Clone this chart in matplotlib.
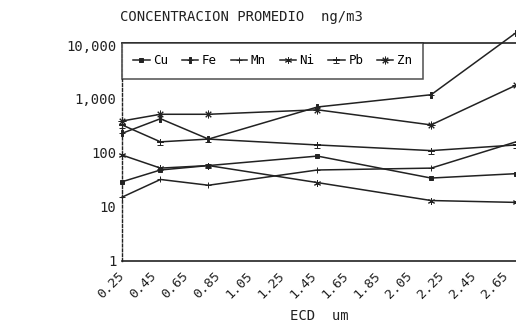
import numpy as np
import matplotlib
matplotlib.use("Agg")
import matplotlib.pyplot as plt

plt.rcParams["font.family"] = ["DejaVu Sans Mono", "DejaVu Sans"]

# === 数据 ===
ecd = [0.25, 0.49, 0.79, 1.47, 2.18, 2.71]
cu = [29, 48, 58, 87, 34, 41]
fe = [230, 430, 180, 710, 1200, 17000]
mn = [15, 32, 25, 48, 52, 160]
ni = [91, 52, 58, 28, 13, 12]
pb = [330, 160, 180, 140, 110, 140]
zn = [390, 520, 520, 630, 330, 1800]

series_names = ["Cu", "Fe", "Mn", "Ni", "Pb", "Zn"]
series_values = [cu, fe, mn, ni, pb, zn]
markers = ["s", "$\\div$", "+", (6, 2, 0), "$\\pm$", (8, 2, 0)]
marker_sizes = [2.5, 5, 5, 5, 5, 5.5]

x_ticks = [0.25, 0.45, 0.65, 0.85, 1.05, 1.25, 1.45, 1.65, 1.85, 2.05, 2.25, 2.45, 2.65]
x_tick_labels = ["0.25", "0.45", "0.65", "0.85", "1.05", "1.25", "1.45",
                 "1.65", "1.85", "2.05", "2.25", "2.45", "2.65"]
y_ticks = [1, 10, 100, 1000, 10000]
y_tick_labels = ["1", "10", "100", "1,000", "10,000"]

# === 画布 ===
W, H = 516, 325
fig = plt.figure(figsize=(W / 100, H / 100), dpi=100)
fig.patch.set_facecolor("white")

ax_left, ax_right = 122, 516
ax_top, ax_bottom = 43, 260.5
ax = fig.add_axes([ax_left / W, 1 - ax_bottom / H,
                   (ax_right - ax_left) / W, (ax_bottom - ax_top) / H])

line_color = "#222222"
for name, vals, mk, ms in zip(series_names, series_values, markers, marker_sizes):
    ax.plot(ecd, vals, color=line_color, linewidth=1.1, marker=mk,
            markersize=ms, markeredgewidth=0.7, label=name, clip_on=False)

ax.set_yscale("log")
ax.set_ylim(1, 10 ** 4.04)
ax.set_xlim(0.25, 2.71)
ax.minorticks_off()

ax.set_yticks(y_ticks)
ax.set_yticklabels(y_tick_labels, fontsize=10)
ax.set_xticks(x_ticks)
ax.set_xticklabels(x_tick_labels, fontsize=9.5, rotation=45, ha="right",
                   va="center", rotation_mode="anchor")
ax.tick_params(axis="both", length=0, colors="#222222")
ax.tick_params(axis="y", pad=4)
ax.tick_params(axis="x", pad=10)

# 边框
ax.spines["right"].set_visible(False)
ax.spines["left"].set_linestyle((0, (2, 1.5)))
ax.spines["left"].set_linewidth(1.0)
for s in ["top", "bottom"]:
    ax.spines[s].set_linewidth(1.2)
for s in ["top", "bottom", "left"]:
    ax.spines[s].set_color("#222222")

ax.set_xlabel("ECD  um", fontsize=10, color="#222222")
# x 轴标题位置（顶部约在 310 px）
ax.xaxis.set_label_coords(0.5, (ax_bottom - 309) / (ax_bottom - ax_top))

leg = ax.legend(loc="upper left", bbox_to_anchor=(0, 1), borderaxespad=0,
                ncol=6, fontsize=9, frameon=True, fancybox=False,
                handlelength=1.3, handletextpad=0.3, columnspacing=1.1,
                borderpad=0.9)
leg.get_frame().set_edgecolor("#222222")
leg.get_frame().set_linewidth(1.1)

fig.text(120 / W, 1 - 17 / H, "CONCENTRACION PROMEDIO  ng/m3",
         fontsize=10, va="center", ha="left", color="#222222")

fig.savefig("out.png", dpi=100, facecolor="white")
